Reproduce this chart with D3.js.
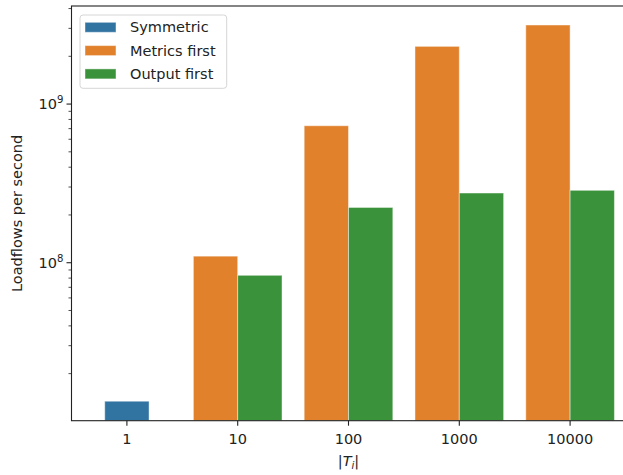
<!DOCTYPE html>
<html>
<head>
<meta charset="utf-8">
<script src="https://cdn.jsdelivr.net/npm/d3@7"></script>
<style>
  body { margin: 0; background: #fff; }
  svg { font-family: "DejaVu Sans", sans-serif; }
</style>
</head>
<body>
<div id="chart"></div>
<script>
const categories = ["1", "10", "100", "1000", "10000"];
const seriesNames = ["Symmetric", "Metrics first", "Output first"];
const seriesColors = ["#3274a1", "#e1812c", "#3a923a"];
// null = no bar for that category
const symmetric = [1.34e7, null, null, null, null];
const metricsFirst = [null, 1.10e8, 7.30e8, 2.31e9, 3.15e9];
const outputFirst = [null, 8.33e7, 2.23e8, 2.75e8, 2.86e8];

const width = 623, height = 475;
const margin = { left: 71.5, right: -2.5, top: 6, bottom: 54.3 };
const fontSize = 14.5;

const svg = d3.select("#chart").append("svg")
    .attr("width", width)
    .attr("height", height);

const x = d3.scaleBand()
    .domain(categories)
    .range([margin.left, width - margin.right])
    .padding(0);

const y = d3.scaleLog()
    .domain([1.01e7, 4.15e9])
    .range([height - margin.bottom, margin.top]);

const barW = x.bandwidth() * 0.4;

// build bar list: categories with a single series are centered, others dodge
const bars = [];
categories.forEach((c, i) => {
    const vals = [symmetric[i], metricsFirst[i], outputFirst[i]];
    const present = vals.map((v, s) => ({ v, s })).filter(d => d.v != null);
    const total = present.length * barW;
    const start = x(c) + x.bandwidth() / 2 - total / 2;
    present.forEach((d, k) => {
        bars.push({ x0: start + k * barW, value: d.v, s: d.s });
    });
});

const plot = svg.append("g");

plot.selectAll("rect.bar")
    .data(bars)
    .enter().append("rect")
    .attr("class", "bar")
    .attr("x", d => d.x0)
    .attr("width", barW)
    .attr("y", d => y(d.value))
    .attr("height", d => y.range()[0] - y(d.value))
    .attr("fill", d => seriesColors[d.s])
    .attr("stroke", "rgba(255,255,255,0.45)")
    .attr("stroke-width", 1);

// spines
const x0 = margin.left, x1 = width - margin.right;
const yb = height - margin.bottom, yt = margin.top;
svg.append("rect")
    .attr("x", x0).attr("y", yt)
    .attr("width", x1 - x0).attr("height", yb - yt)
    .attr("fill", "none")
    .attr("stroke", "#222")
    .attr("stroke-width", 1.1);

// x axis
const xAxis = svg.append("g").attr("transform", `translate(0,${yb})`);
categories.forEach(c => {
    const cx = x(c) + x.bandwidth() / 2;
    xAxis.append("line")
        .attr("x1", cx).attr("x2", cx)
        .attr("y1", 0).attr("y2", 5)
        .attr("stroke", "#222").attr("stroke-width", 1.1);
    xAxis.append("text")
        .attr("x", cx).attr("y", 23.5)
        .attr("text-anchor", "middle")
        .attr("font-size", fontSize)
        .attr("fill", "#222")
        .text(c);
});

// y axis: major at decades, minor 2..9
const yAxis = svg.append("g");
const [lo, hi] = y.domain();
for (let e = Math.floor(Math.log10(lo)); e <= Math.ceil(Math.log10(hi)); e++) {
    for (let m = 1; m <= 9; m++) {
        const v = m * Math.pow(10, e);
        if (v < lo || v > hi) continue;
        const py = y(v);
        const major = m === 1;
        yAxis.append("line")
            .attr("x1", x0).attr("x2", x0 - (major ? 5 : 3))
            .attr("y1", py).attr("y2", py)
            .attr("stroke", "#222")
            .attr("stroke-width", major ? 1.1 : 0.8);
        if (major) {
            const t = yAxis.append("text")
                .attr("x", x0 - 8)
                .attr("y", py + 5)
                .attr("text-anchor", "end")
                .attr("font-size", fontSize)
                .attr("fill", "#222");
            t.append("tspan").text("10");
            t.append("tspan")
                .attr("font-size", fontSize * 0.7)
                .attr("dy", -6)
                .text(e);
        }
    }
}

// axis labels
svg.append("text")
    .attr("transform", `translate(22,${(yt + yb) / 2}) rotate(-90)`)
    .attr("text-anchor", "middle")
    .attr("font-size", fontSize)
    .attr("fill", "#222")
    .text("Loadflows per second");

const xl = svg.append("text")
    .attr("x", (x0 + x1) / 2)
    .attr("y", 466)
    .attr("text-anchor", "middle")
    .attr("font-size", fontSize)
    .attr("fill", "#222");
xl.append("tspan").text("|");
xl.append("tspan").attr("font-style", "italic").text("T");
xl.append("tspan").attr("font-style", "italic")
    .attr("font-size", fontSize * 0.7).attr("dy", 3).text("i");
xl.append("tspan").attr("dy", -3).text("|");

// legend
const legend = svg.append("g").attr("transform", "translate(80,15)");
legend.append("rect")
    .attr("width", 146.7).attr("height", 73.3)
    .attr("rx", 3)
    .attr("fill", "rgba(255,255,255,0.8)")
    .attr("stroke", "#d6d6d6");
seriesNames.forEach((name, i) => {
    const row = legend.append("g").attr("transform", `translate(5,${7.3 + i * 23.3})`);
    row.append("rect")
        .attr("width", 31).attr("height", 10)
        .attr("fill", seriesColors[i])
        .attr("stroke", "rgba(255,255,255,0.45)");
    row.append("text")
        .attr("x", 45).attr("y", 10)
        .attr("font-size", fontSize)
        .attr("fill", "#222")
        .text(name);
});
</script>
</body>
</html>
